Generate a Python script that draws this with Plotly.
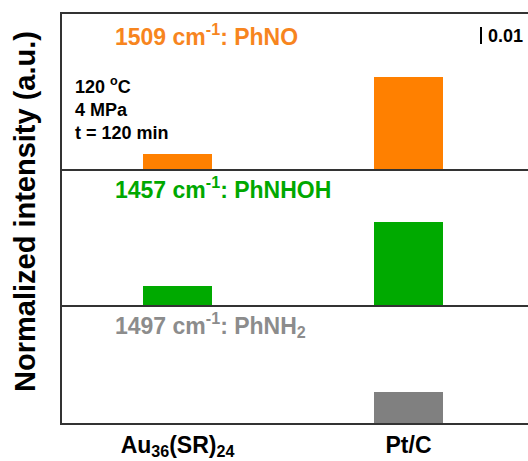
import plotly.graph_objects as go

catalysts = ["Au<sub>36</sub>(SR)<sub>24</sub>", "Pt/C"]
cat_pos = [0, 1]
phno = [0.0090, 0.0540]
phnhoh = [0.0114, 0.0487]
phnh2 = [0.0, 0.0180]
panel_labels = ["1509 cm<sup>-1</sup>: PhNO", "1457 cm<sup>-1</sup>: PhNHOH", "1497 cm<sup>-1</sup>: PhNH<sub>2</sub>"]
colors = ["#FF8000", "#00AA00", "#808080"]
text_colors = ["#F7851E", "#00A800", "#8C8C8C"]
conditions = ["120 <sup>o</sup>C", "4 MPa", "t = 120 min"]
scale_value = 0.01

FONT = "Liberation Sans, Arial, sans-serif"
W = 540  # plot extends past the right edge of the window, like the cropped reference
PW = W - 62

def px(x):
    return (x - 62) / PW

fig = go.Figure()
series = [phno, phnhoh, phnh2]
for i, vals in enumerate(series):
    fig.add_trace(go.Bar(x=cat_pos, y=vals, width=0.3, marker=dict(color=colors[i], line=dict(width=0)),
                         xaxis="x" if i == 0 else f"x{i+1}", yaxis="y" if i == 0 else f"y{i+1}",
                         showlegend=False))

line = dict(showline=True, linecolor="#333333", linewidth=2, showgrid=False, zeroline=False)
xr = [-0.5, -0.5 + PW / 231]
layout = dict(
    width=W, height=461,
    margin=dict(l=62, r=0, t=14, b=38),
    paper_bgcolor="white", plot_bgcolor="white",
    font=dict(family=FONT, color="black"),
    xaxis=dict(domain=[0, 1], anchor="y", range=xr, mirror=True, showticklabels=False, ticks="", **line),
    xaxis2=dict(domain=[0, 1], anchor="y2", range=xr, showticklabels=False, ticks="", **line),
    xaxis3=dict(domain=[0, 1], anchor="y3", range=xr, ticks="", tickvals=cat_pos,
                ticktext=[f"<b>{c}</b>" for c in catalysts], tickfont=dict(size=23, family=FONT, color="black"), **line),
    yaxis=dict(domain=[0.621, 1], anchor="x", range=[0, 0.0912], showticklabels=False, ticks="", **line),
    yaxis2=dict(domain=[0.2885, 0.621], anchor="x2", range=[0, 0.080], showticklabels=False, ticks="", **line),
    yaxis3=dict(domain=[0, 0.2885], anchor="x3", range=[0, 0.0694], showticklabels=False, ticks="", **line),
    bargap=0,
)
fig.update_layout(**layout)

label_y = [0.9487, 0.5746, 0.2396]
for i, t in enumerate(panel_labels):
    fig.add_annotation(text=f"<b>{t}</b>", xref="paper", yref="paper", x=px(113), y=label_y[i],
                       xanchor="left", yanchor="middle", showarrow=False,
                       font=dict(size=23, color=text_colors[i], family=FONT))

cond_y = [0.826, 0.765, 0.709]
for t, yy in zip(conditions, cond_y):
    fig.add_annotation(text=f"<b>{t}</b>", xref="paper", yref="paper", x=px(73), y=yy,
                       xanchor="left", yanchor="middle", showarrow=False,
                       font=dict(size=18, color="black", family=FONT))

# scale bar representing 0.01 in data units of the top panel
fig.add_shape(type="line", xref="paper", yref="y", x0=px(481), x1=px(481), y0=0.0735, y1=0.0735 + scale_value,
              line=dict(color="black", width=2))
fig.add_annotation(text=f"<b>{scale_value}</b>", xref="paper", yref="paper", x=px(486), y=0.946,
                   xanchor="left", yanchor="middle", showarrow=False,
                   font=dict(size=18, color="black", family=FONT))

fig.add_annotation(text="<b>Normalized intensity (a.u.)</b>", xref="paper", yref="paper",
                   x=px(25), y=0.516, xanchor="center", yanchor="middle", textangle=-90,
                   showarrow=False, font=dict(size=29, color="black", family=FONT))

fig.write_html("out.html", config={"displayModeBar": False},
               post_script="document.body.style.margin='0';document.body.style.overflow='hidden';")
